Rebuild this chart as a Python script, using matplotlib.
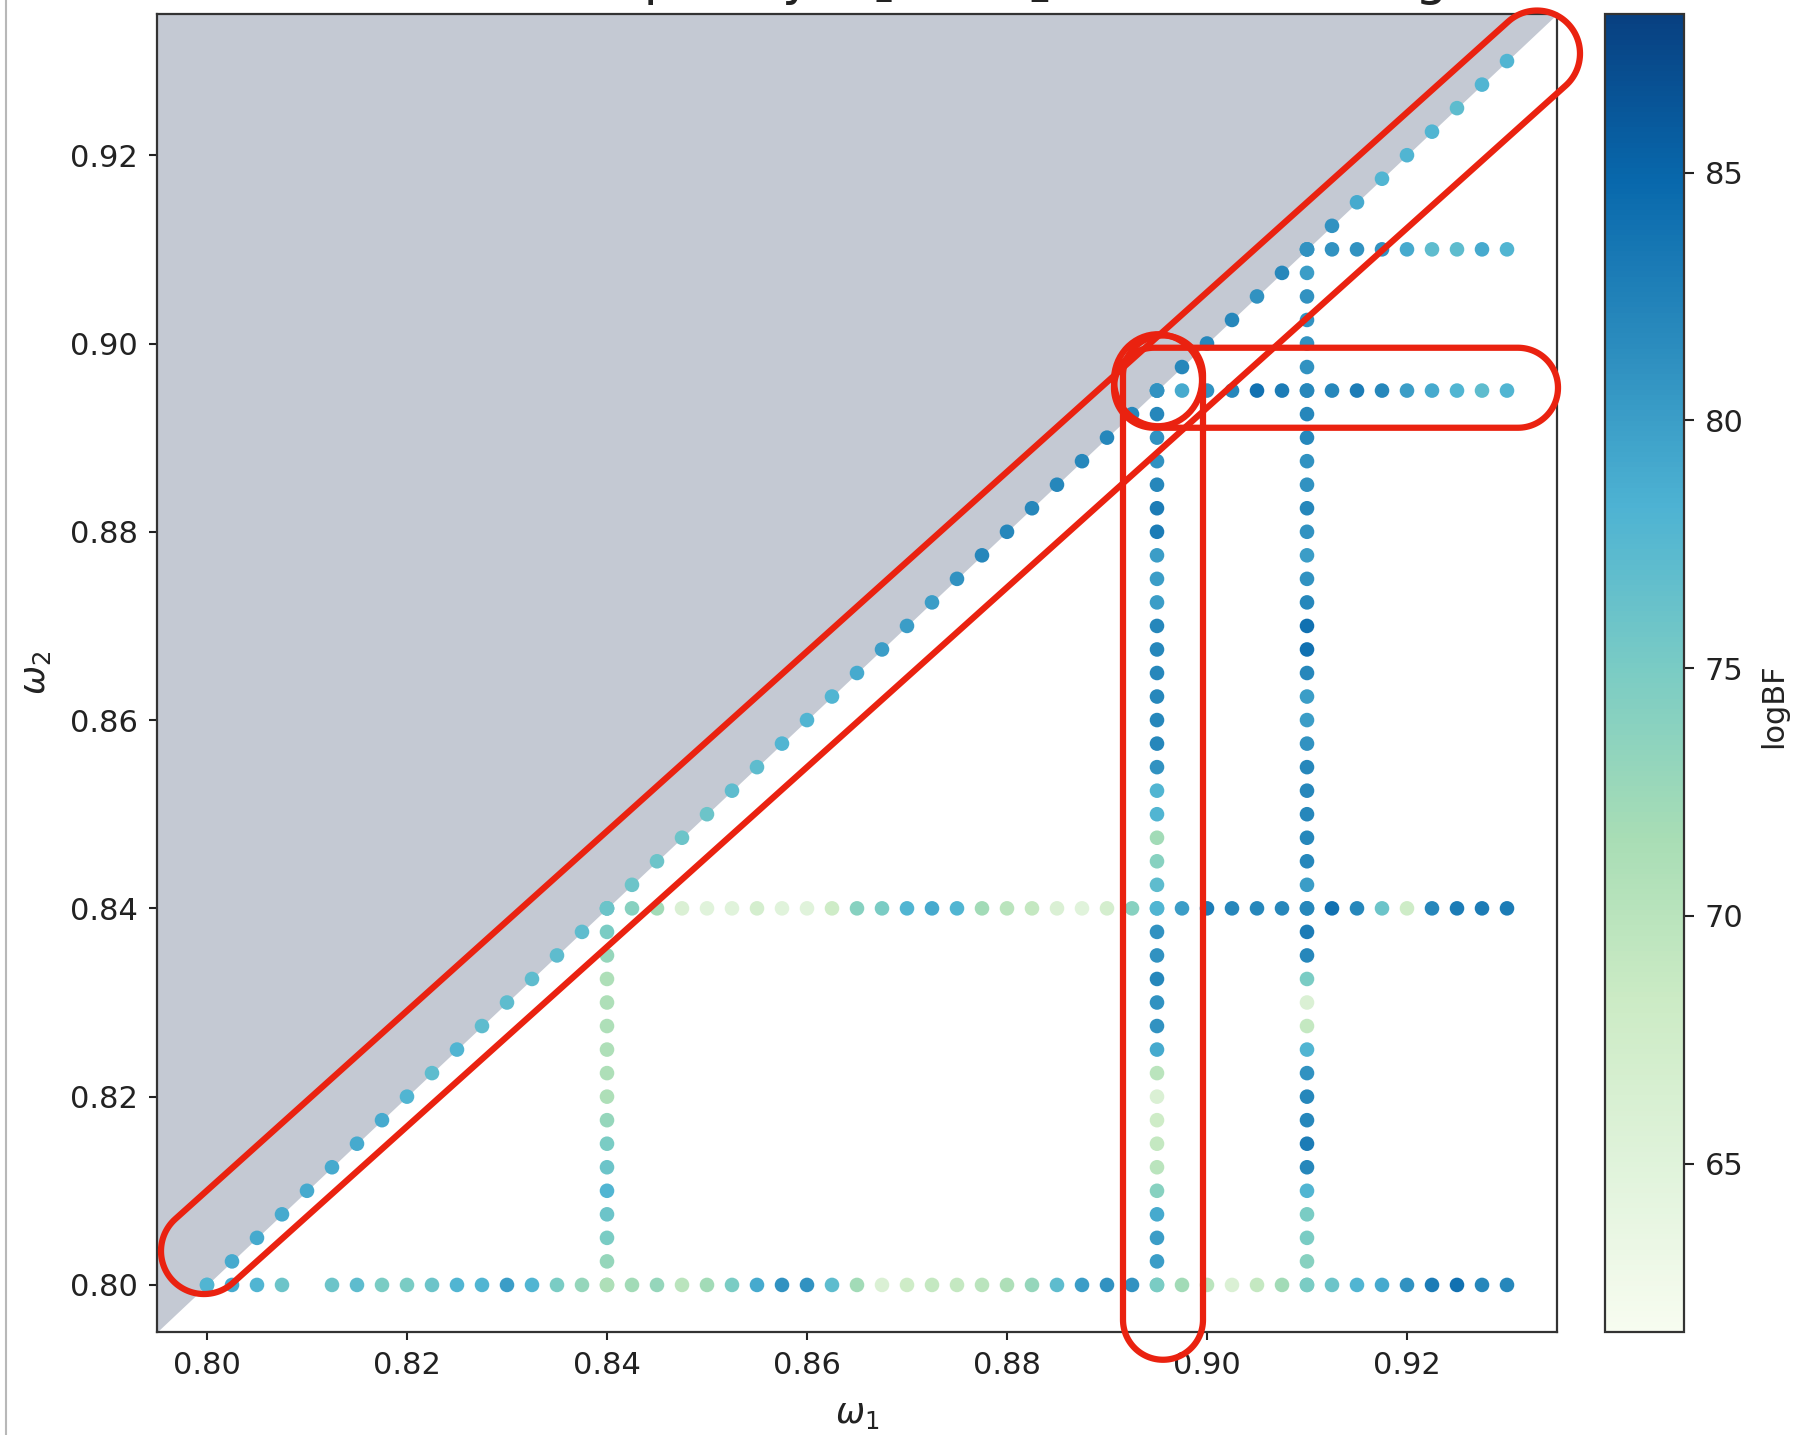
import numpy as np
import matplotlib
matplotlib.use("Agg")
import matplotlib.pyplot as plt
from matplotlib.patches import Polygon, Ellipse
from matplotlib.transforms import IdentityTransform
from matplotlib.colors import Normalize
from matplotlib.lines import Line2D

# ---------------- data ----------------
# sampling grid shared by every scan line (omega from 0.80 to 0.93)
grid = np.round(np.linspace(0.80, 0.93, 53), 4)

nan = np.nan
# horizontal scan at omega_2 = 0.80 (omega_1 = 0.80 ... 0.93), one run missing
logbf_row_080 = [77, 79, 78, 76, nan, 76, 77, 75, 75, 76,
                 78, 78, 80, 78, 75, 73, 71, 72, 73, 70,
                 72, 75, 79, 81, 81, 77, 72, 66, 68, 69,
                 69, 70, 71, 73, 77, 80, 81, 81, 75, 72,
                 70, 66, 69, 72, 75, 76, 78, 79, 81, 83,
                 84, 82, 82]
# horizontal scan at omega_2 = 0.84 (omega_1 = 0.84 ... 0.93)
logbf_row_084 = [76, 74, 72, 66, 65, 65, 67, 65, 65, 68,
                 74, 75, 78, 79, 78, 72, 70, 69, 66, 65,
                 67, 74, 78, 80, 83, 82, 82, 82, 82, 84,
                 82, 76, 68, 82, 83, 83, 83]
# horizontal scan at omega_2 = 0.895 (omega_1 = 0.895 ... 0.93)
logbf_row_0895 = [80, 79, 81, 82, 84, 83, 82, 82, 83, 82, 80, 79, 78, 77, 78]
# horizontal scan at omega_2 = 0.91 (omega_1 = 0.91 ... 0.93)
logbf_row_091 = [80, 81, 81, 81, 79, 77, 77, 79, 78]
# vertical scan at omega_1 = 0.84 (omega_2 = 0.80 ... 0.84)
logbf_col_084 = [71, 73, 75, 76, 78, 76, 75, 73, 71, 71,
                 71, 71, 71, 71, 73, 75, 76]
# vertical scan at omega_1 = 0.895 (omega_2 = 0.80 ... 0.895)
logbf_col_0895 = [75, 80, 80, 79, 74, 70, 69, 68, 66, 70,
                  79, 81, 81, 82, 81, 81, 78, 77, 74, 72,
                  78, 78, 81, 82, 82, 82, 82, 82, 82, 80,
                  80, 80, 83, 83, 82, 81, 81, 82, 80]
# vertical scan at omega_1 = 0.91 (omega_2 = 0.80 ... 0.91)
logbf_col_091 = [75, 74, 75, 75, 78, 82, 83, 82, 82, 81,
                 78, 69, 66, 75, 82, 83, 82, 80, 82, 82,
                 82, 82, 82, 81, 80, 80, 82, 84, 84, 82,
                 81, 80, 81, 82, 81, 81, 82, 82, 81, 81,
                 81, 81, 81, 80, 80]
# diagonal scan omega_1 = omega_2
logbf_diag = [78, 79, 79, 79, 79, 79, 79, 79, 78, 77,
              78, 77, 77, 77, 77, 77, 76, 76, 76, 76,
              76, 77, 77, 78, 78, 78, 79, 80, 80, 80,
              81, 82, 82, 82, 82, 82, 82, 82, 81, 82,
              82, 82, 81, 82, 81, 81, 79, 78, 78, 78,
              77, 78, 78]

LOGBF_MIN, LOGBF_MAX = 61.6, 88.2
xticks = [0.80, 0.82, 0.84, 0.86, 0.88, 0.90, 0.92]
cbar_ticks = [65, 70, 75, 80, 85]
title_text = r"Oscillation frequency $\omega_1$ vs $\omega_2$ $-$ BF Scanning"

# ---------------- assemble points ----------------
xs, ys, vs = [], [], []


def add(x, y, v):
    x = np.broadcast_to(np.asarray(x, float), (len(v),))
    y = np.broadcast_to(np.asarray(y, float), (len(v),))
    v = np.asarray(v, float)
    keep = ~np.isnan(v)
    xs.extend(x[keep]); ys.extend(y[keep]); vs.extend(v[keep])


add(0.84, grid[:17], logbf_col_084)
add(0.895, grid[:39], logbf_col_0895)
add(0.91, grid[:45], logbf_col_091)
add(grid, 0.80, logbf_row_080)
add(grid[16:], 0.84, logbf_row_084)
add(grid[38:], 0.895, logbf_row_0895)
add(grid[44:], 0.91, logbf_row_091)
add(grid, grid, logbf_diag)

# ---------------- figure ----------------
W, H = 1800, 1435
fig = plt.figure(figsize=(W / 100, H / 100), dpi=100)
fig.patch.set_facecolor("white")

ax = fig.add_axes([157 / W, 103 / H, 1400 / W, 1318 / H])
cax = fig.add_axes([1605 / W, 103 / H, 79 / W, 1318 / H])

lo, hi = 0.795, 0.935
ax.set_xlim(lo, hi)
ax.set_ylim(lo, hi)

# excluded region omega_2 > omega_1
ax.fill_between([lo, hi], [lo, hi], hi, color="#c4c9d3", lw=0, zorder=0)

norm = Normalize(vmin=LOGBF_MIN, vmax=LOGBF_MAX)
sc = ax.scatter(xs, ys, c=vs, cmap="GnBu", norm=norm, s=110,
                linewidths=0, zorder=2)

ax.set_xticks(xticks)
ax.set_yticks(xticks)
ax.set_xticklabels([f"{t:.2f}" for t in xticks])
ax.set_yticklabels([f"{t:.2f}" for t in xticks])
ax.tick_params(labelsize=22, length=6, width=1.5, pad=8, colors="#222222")
for sp in ax.spines.values():
    sp.set_linewidth(1.6)
    sp.set_color("#333333")

ax.set_xlabel(r"$\omega_1$", fontsize=25, color="#222222")
ax.xaxis.label.set_va("center")
ax.xaxis.set_label_coords(0.5, (1332 - 1414) / 1318)
ax.set_ylabel(r"$\omega_2$", fontsize=25, color="#222222")
ax.yaxis.label.set_va("center")
ax.yaxis.set_label_coords((36 - 157) / 1400, 0.5)

cb = fig.colorbar(sc, cax=cax)
cb.set_ticks(cbar_ticks)
cax.tick_params(labelsize=22, length=7, width=1.5, pad=8, colors="#222222")
cb.outline.set_linewidth(1.6)
cb.outline.set_edgecolor("#333333")
cb.set_label("logBF", fontsize=22, color="#222222")
cax.yaxis.label.set_va("center")
cax.yaxis.set_label_coords((1774 - 1605) / 79, 0.475)

# title sitting just past the top edge
fig.text(857 / W, 1 + 6 / H, title_text, fontsize=37, ha="center",
         va="baseline", color="#222222")

# thin frame line on the left edge
fig.add_artist(Line2D([6 / W, 6 / W], [0, 1], color="#b8b8b8", lw=1.5))

# ---------------- red highlight outlines ----------------
RED = "#ea2210"
LW = 4.5


def stadium(p_start, p_end, r_px):
    p1 = ax.transData.transform(p_start)
    p2 = ax.transData.transform(p_end)
    d = p2 - p1
    ang = np.arctan2(d[1], d[0])
    t2 = np.linspace(ang - np.pi / 2, ang + np.pi / 2, 60)
    t1 = np.linspace(ang + np.pi / 2, ang + 3 * np.pi / 2, 60)
    cap2 = np.column_stack([p2[0] + r_px * np.cos(t2), p2[1] + r_px * np.sin(t2)])
    cap1 = np.column_stack([p1[0] + r_px * np.cos(t1), p1[1] + r_px * np.sin(t1)])
    pts = np.vstack([cap2, cap1])
    fig.add_artist(Polygon(pts, closed=True, fill=False, ec=RED, lw=LW,
                           joinstyle="round", transform=IdentityTransform(),
                           zorder=5))


stadium((0.7997, 0.8036), (0.9330, 0.9308), 43)
stadium((0.8956, 0.7963), (0.8956, 0.8966), 40)
stadium((0.8947, 0.8953), (0.9311, 0.8953), 40)
c = ax.transData.transform((0.8951, 0.8961))
fig.add_artist(Ellipse(c, 88, 92, fill=False, ec=RED, lw=LW,
                       transform=IdentityTransform(), zorder=5))

fig.savefig("out.png", dpi=100, facecolor="white")
